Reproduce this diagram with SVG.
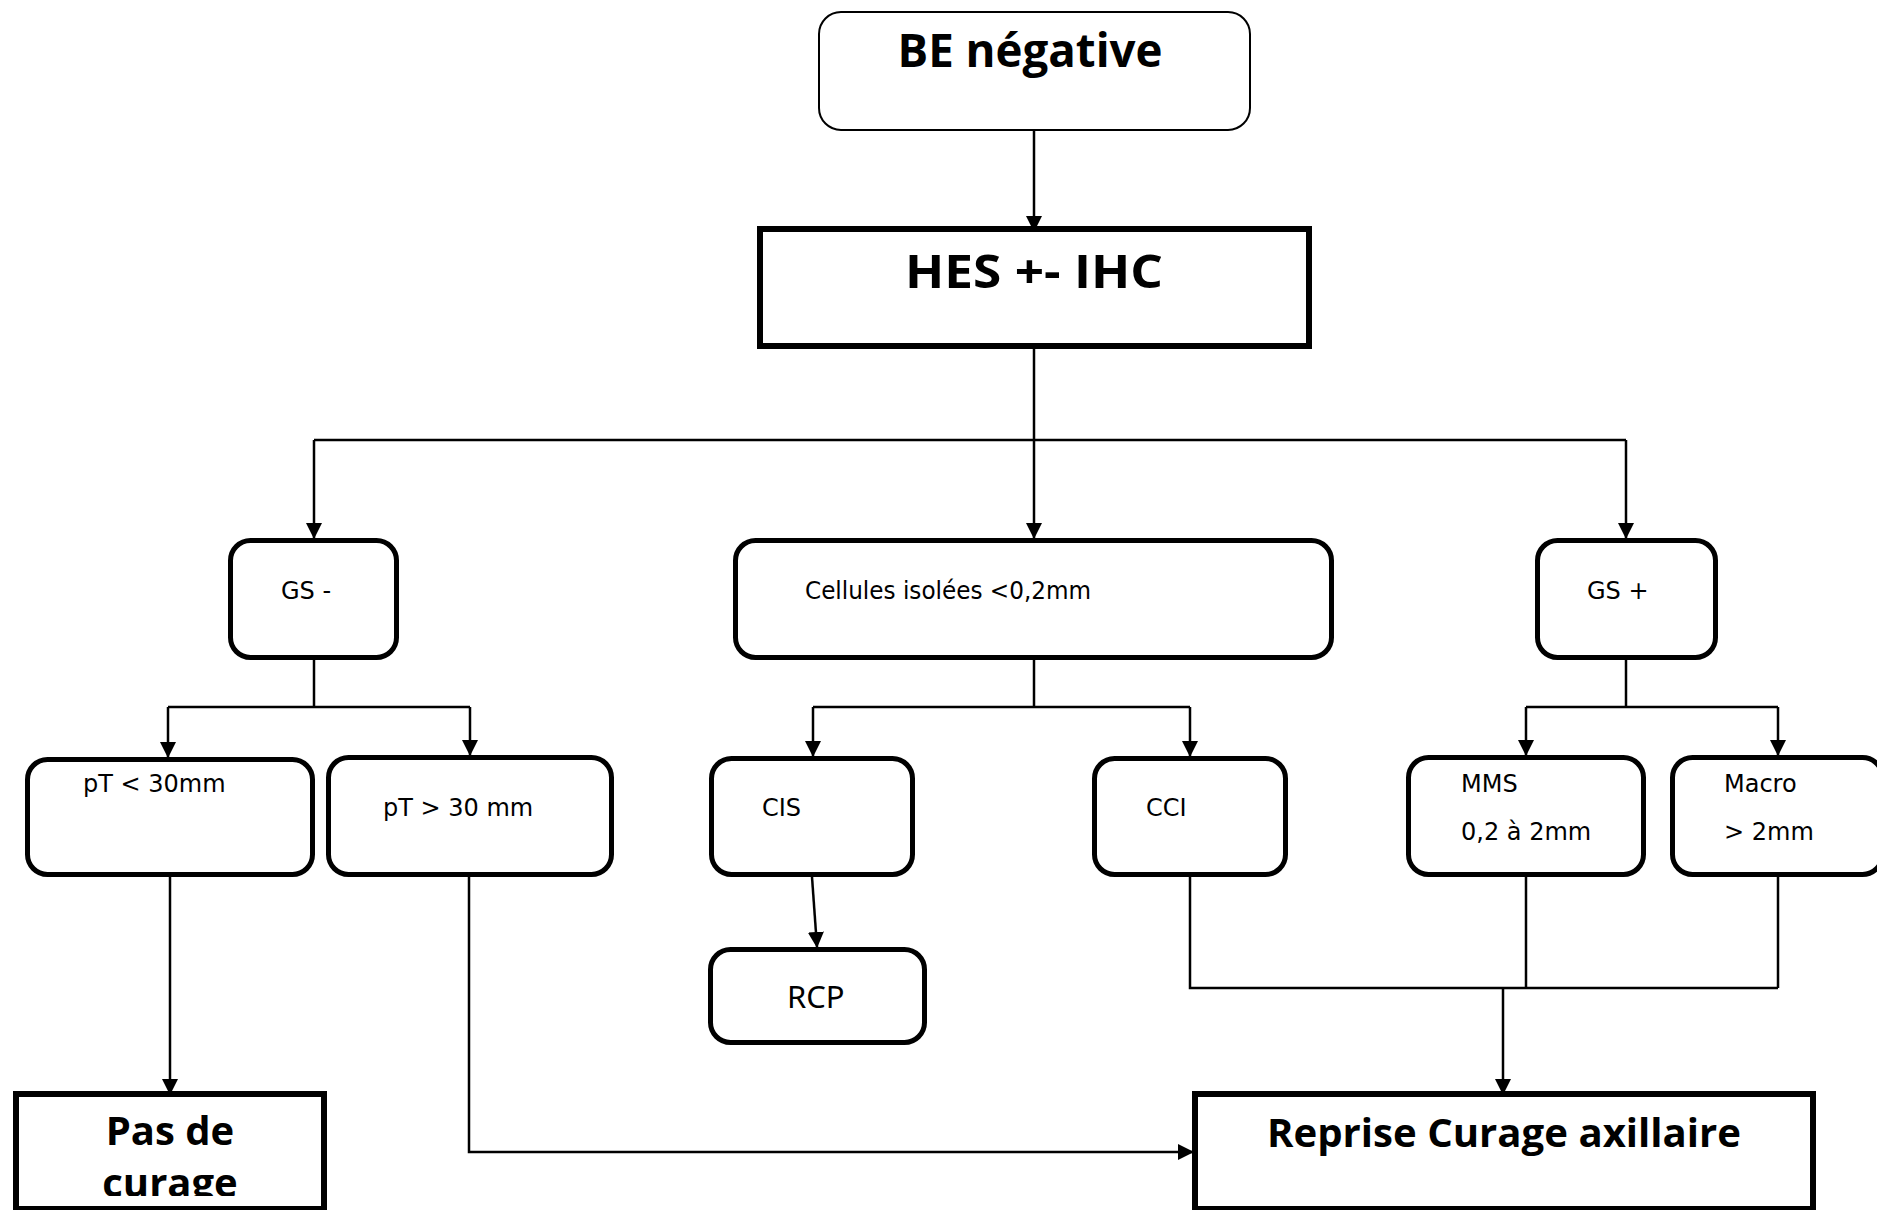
<svg xmlns="http://www.w3.org/2000/svg" width="1877" height="1210" viewBox="0 0 1877 1210">
  <defs>
    <marker id="arrow" markerUnits="userSpaceOnUse" markerWidth="16" markerHeight="16" refX="15" refY="8" orient="auto">
      <path d="M0,0 L16,8 L0,16 z" fill="#000"/>
    </marker>
    <clipPath id="clip-pas">
      <rect x="16" y="1096" width="308" height="100"/>
    </clipPath>
  </defs>
  <style>
    .node { fill: #fff; stroke: #000; stroke-width: 5; }
    .head { fill: #fff; stroke: #000; stroke-width: 6; }
    .start { fill: #fff; stroke: #000; stroke-width: 2; }
    .lbl { font-family: "DejaVu Sans", Verdana, sans-serif; font-size: 24px; fill: #000; }
    .big { font-family: "Open Sans", "Liberation Sans", sans-serif; font-weight: bold; fill: #000; }
    .rcp { font-family: "Noto Sans", "Open Sans", sans-serif; font-size: 31px; fill: #000; }
    .wire { fill: none; stroke: #000; stroke-width: 2.5; }
    .arr { fill: none; stroke: #000; stroke-width: 2.5; marker-end: url(#arrow); }
  </style>
  <rect width="1877" height="1210" fill="#fff"/>

  <!-- connectors -->
  <g id="connectors">
    <path class="arr" d="M1034,131 V231"/>
    <path class="wire" d="M1034,340 V440"/>
    <path class="wire" d="M314,440 H1626"/>
    <path class="arr" d="M314,440 V538"/>
    <path class="arr" d="M1034,440 V538"/>
    <path class="arr" d="M1626,440 V538"/>

    <path class="wire" d="M314,660 V707"/>
    <path class="wire" d="M168,707 H470"/>
    <path class="arr" d="M168,707 V757"/>
    <path class="arr" d="M470,707 V755"/>

    <path class="wire" d="M1034,660 V707"/>
    <path class="wire" d="M813,707 H1190"/>
    <path class="arr" d="M813,707 V756"/>
    <path class="arr" d="M1190,707 V756"/>

    <path class="wire" d="M1626,660 V707"/>
    <path class="wire" d="M1526,707 H1778"/>
    <path class="arr" d="M1526,707 V755"/>
    <path class="arr" d="M1778,707 V755"/>

    <path class="arr" d="M812,877 L817,947"/>

    <path class="arr" d="M170,877 V1094"/>
    <path class="arr" d="M469,877 V1152 H1193"/>

    <path class="wire" d="M1190,877 V988 H1778"/>
    <path class="wire" d="M1526,877 V988"/>
    <path class="wire" d="M1778,877 V988"/>
    <path class="arr" d="M1503,988 V1094"/>
  </g>

  <!-- nodes -->
  <g id="be-negative">
    <rect class="start" x="819" y="12" width="431" height="118" rx="22"/>
    <text class="big" x="1030" y="67" font-size="46" text-anchor="middle" textLength="265" lengthAdjust="spacingAndGlyphs">BE négative</text>
  </g>

  <g id="hes-ihc">
    <rect class="head" x="760" y="229" width="549" height="117"/>
    <text class="big" x="1034" y="288" font-size="46" text-anchor="middle" textLength="258" lengthAdjust="spacingAndGlyphs">HES +- IHC</text>
  </g>

  <g id="gs-neg">
    <rect class="node" x="230.5" y="540.5" width="166" height="117" rx="20"/>
    <text class="lbl" x="281" y="599">GS -</text>
  </g>

  <g id="cellules">
    <rect class="node" x="735.5" y="540.5" width="596" height="117" rx="20"/>
    <text class="lbl" x="805" y="599" textLength="286" lengthAdjust="spacingAndGlyphs">Cellules isolées &lt;0,2mm</text>
  </g>

  <g id="gs-pos">
    <rect class="node" x="1537.5" y="540.5" width="178" height="117" rx="20"/>
    <text class="lbl" x="1587" y="599">GS +</text>
  </g>

  <g id="pt-inf">
    <rect class="node" x="27.5" y="759.5" width="285" height="115" rx="20"/>
    <text class="lbl" x="83" y="792">pT &lt; 30mm</text>
  </g>

  <g id="pt-sup">
    <rect class="node" x="328.5" y="757.5" width="283" height="117" rx="20"/>
    <text class="lbl" x="383" y="816">pT &gt; 30 mm</text>
  </g>

  <g id="cis">
    <rect class="node" x="711.5" y="758.5" width="201" height="116" rx="20"/>
    <text class="lbl" x="762" y="816">CIS</text>
  </g>

  <g id="cci">
    <rect class="node" x="1094.5" y="758.5" width="191" height="116" rx="20"/>
    <text class="lbl" x="1146" y="816">CCI</text>
  </g>

  <g id="mms">
    <rect class="node" x="1408.5" y="757.5" width="235" height="117" rx="20"/>
    <text class="lbl" x="1461" y="792">MMS</text>
    <text class="lbl" x="1461" y="840">0,2 à 2mm</text>
  </g>

  <g id="macro">
    <rect class="node" x="1672.5" y="757.5" width="210" height="117" rx="20"/>
    <text class="lbl" x="1724" y="792">Macro</text>
    <text class="lbl" x="1724" y="840">&gt; 2mm</text>
  </g>

  <g id="rcp">
    <rect class="node" x="710.5" y="949.5" width="214" height="93" rx="20"/>
    <text class="rcp" x="787" y="1008">RCP</text>
  </g>

  <g id="pas-de-curage">
    <rect class="head" x="16" y="1094" width="308" height="115"/>
    <g clip-path="url(#clip-pas)">
      <text class="big" x="170" y="1145" font-size="40" text-anchor="middle">Pas de</text>
      <text class="big" x="170" y="1197" font-size="40" text-anchor="middle">curage</text>
    </g>
  </g>

  <g id="reprise-curage">
    <rect class="head" x="1195" y="1094" width="618" height="115"/>
    <text class="big" x="1504" y="1147" font-size="40" text-anchor="middle" textLength="474" lengthAdjust="spacingAndGlyphs">Reprise Curage axillaire</text>
  </g>
</svg>
